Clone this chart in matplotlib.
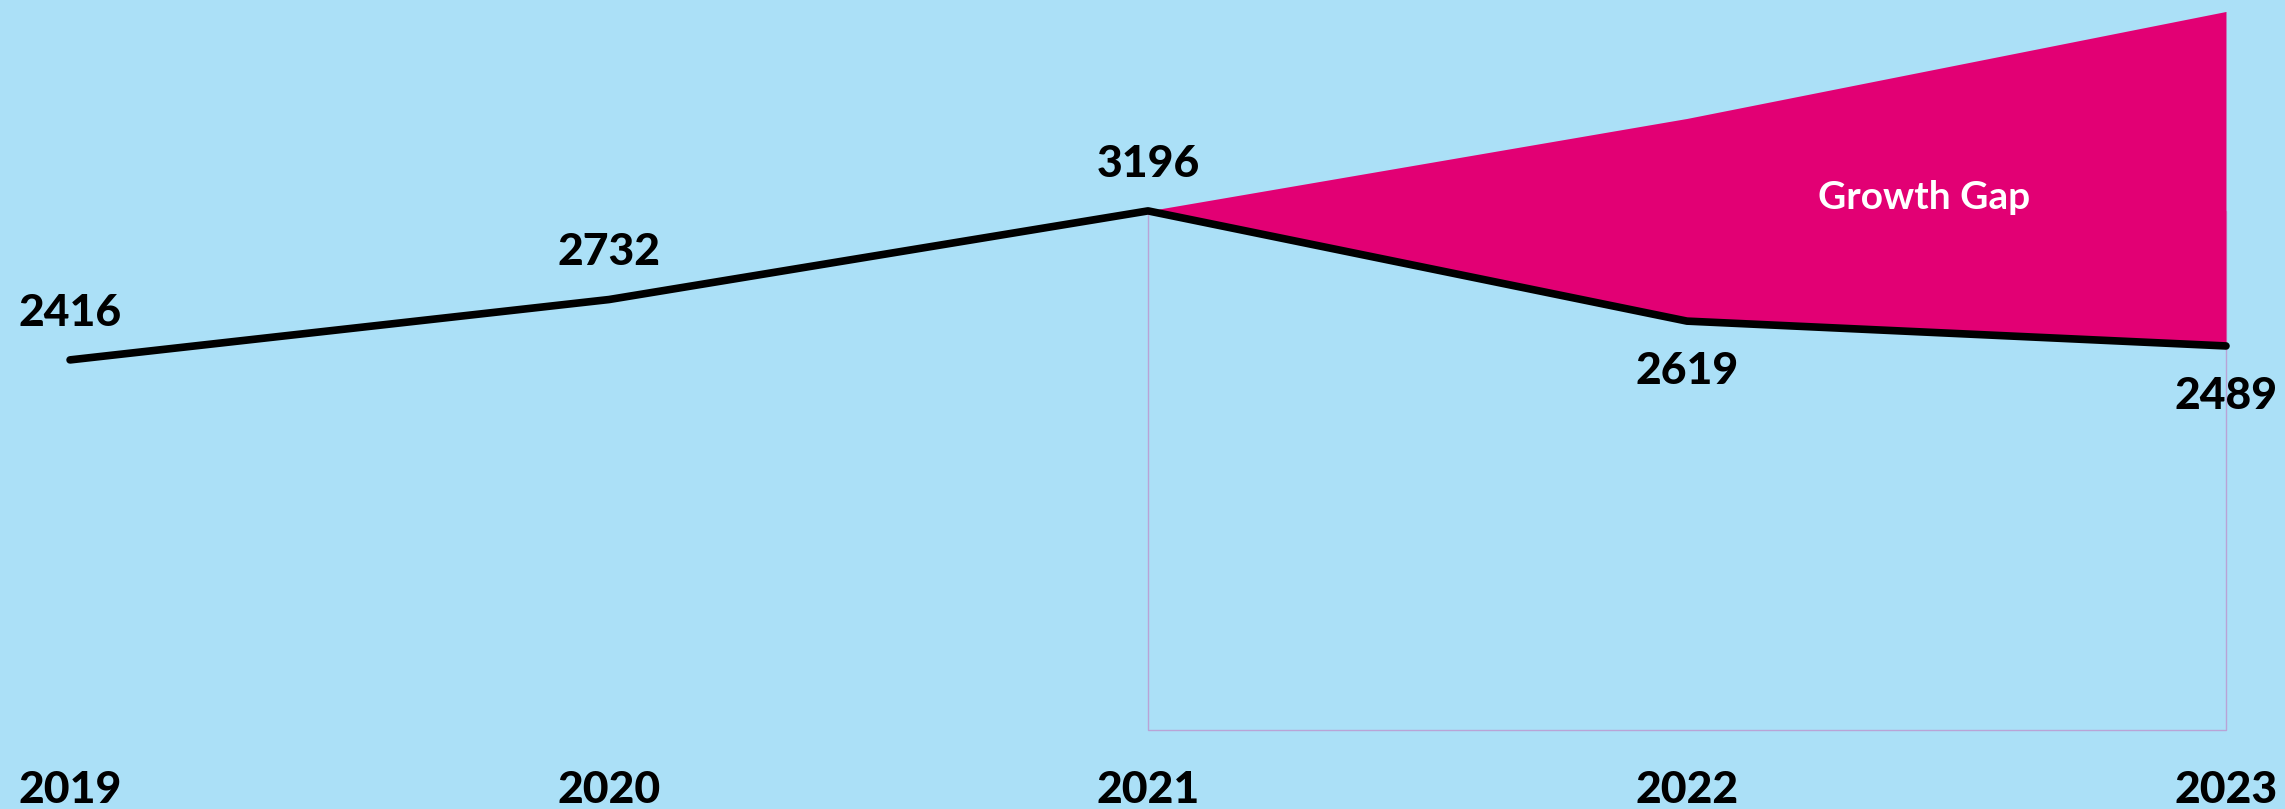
import matplotlib.pyplot as plt
from matplotlib.patches import Rectangle
from matplotlib.transforms import blended_transform_factory

years = [2019, 2020, 2021, 2022, 2023]
actual = [2416, 2732, 3196, 2619, 2489]
gap_years = [2021, 2022, 2023]
target = [3196, 3680, 4240]
gap_box_bottom = 480
label_side = ["above", "above", "above", "below", "below"]

BG = "#ABE0F7"
MAGENTA = "#E20074"

plt.rcParams["font.family"] = ["Lato", "DejaVu Sans"]

fig = plt.figure(figsize=(22.85, 8.09), dpi=100)
fig.patch.set_facecolor(BG)
ax = fig.add_axes([0, 0, 1, 1])
ax.set_facecolor(BG)
ax.set_xlim(2018.870, 2023.1095)
ax.set_ylim(65, 4300)
ax.axis("off")

# thin outline box under the gap
ax.add_patch(Rectangle((gap_years[0], gap_box_bottom), gap_years[-1] - gap_years[0],
                       actual[2] - gap_box_bottom, fill=False, edgecolor="#B9A3D6",
                       linewidth=1.0, zorder=1))

ax.fill_between(gap_years, actual[2:], target, color=MAGENTA, linewidth=0, zorder=2)
ax.plot(years, actual, color="black", linewidth=5.5, solid_capstyle="round",
        solid_joinstyle="round", zorder=3)

for x, v, side in zip(years, actual, label_side):
    dy = 34 if side == "above" else -36
    ax.annotate(f"{v}", (x, v), xytext=(0, dy), textcoords="offset points",
                ha="center", va="center", fontsize=32, fontweight=900, color="black")

ax.text(2022.44, 3265, "Growth Gap", ha="center", va="center",
        fontsize=28, fontweight="bold", color="white", zorder=4)

trans = blended_transform_factory(ax.transData, ax.transAxes)
for x in years:
    ax.text(x, 0.024, str(x), transform=trans, ha="center", va="center",
            fontsize=32, fontweight=900, color="black")

fig.savefig("out.png", dpi=100, facecolor=BG)
